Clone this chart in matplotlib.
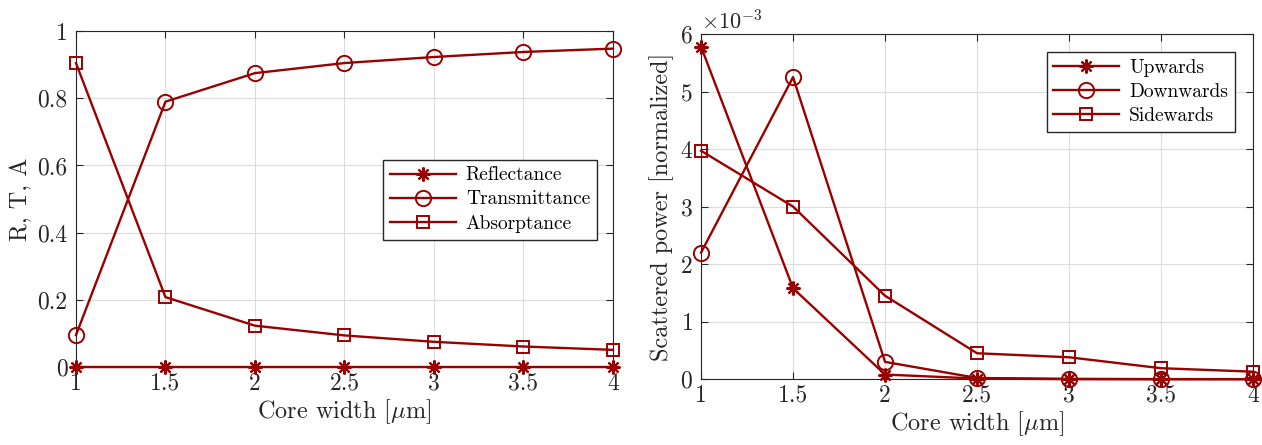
import numpy as np
import matplotlib
matplotlib.use('Agg')
import matplotlib.pyplot as plt
from matplotlib.ticker import FormatStrFormatter, ScalarFormatter

plt.rcParams['font.family'] = ['cmr10', 'DejaVu Serif']
plt.rcParams['mathtext.fontset'] = 'cm'
plt.rcParams['axes.formatter.use_mathtext'] = True
plt.rcParams['axes.unicode_minus'] = False

# data
core_width = [1, 1.5, 2, 2.5, 3, 3.5, 4]
reflectance = [0, 0, 0, 0, 0, 0, 0]
transmittance = [0.095, 0.79, 0.875, 0.905, 0.923, 0.938, 0.948]
absorptance = [0.905, 0.208, 0.123, 0.094, 0.075, 0.061, 0.051]

upwards = [5.78e-3, 1.58e-3, 0.08e-3, 0.01e-3, 0.0, 0.0, 0.0]
downwards = [2.2e-3, 5.25e-3, 0.30e-3, 0.02e-3, 0.005e-3, 0.0, 0.0]
sidewards = [3.97e-3, 3.0e-3, 1.45e-3, 0.45e-3, 0.38e-3, 0.19e-3, 0.13e-3]

red = '#990000'
ink = '#262626'
asterisk = (8, 2, 0)

fig = plt.figure(figsize=(12.62, 4.45), dpi=100)
ax1 = fig.add_axes([0.0602, 0.1753, 0.4255, 0.7547])
ax2 = fig.add_axes([0.5555, 0.148, 0.4374, 0.7756])


def style_axes(ax):
    ax.grid(True, color='#dcdcdc', linewidth=0.8)
    ax.set_axisbelow(True)
    ax.tick_params(direction='in', top=True, right=True, labelsize=17,
                   colors=ink, length=5)
    ax.tick_params(axis='x', pad=4)
    ax.tick_params(axis='y', pad=6)
    for s in ax.spines.values():
        s.set_color(ink)
        s.set_linewidth(0.8)
    ax.set_xlim(1, 4)
    ax.set_xticks(core_width)
    ax.xaxis.set_major_formatter(FormatStrFormatter('%g'))
    ax.set_xlabel(r'Core width [$\mu$m]', fontsize=17.5, color=ink, labelpad=2)


def draw(ax, ys, labels):
    kw = dict(color=red, lw=1.7, clip_on=False, zorder=3)
    ax.plot(core_width, ys[0], marker=asterisk, ms=10, mew=1.6,
            label=labels[0], **kw)
    ax.plot(core_width, ys[1], marker='o', ms=11, mfc='none', mew=1.4,
            label=labels[1], **kw)
    ax.plot(core_width, ys[2], marker='s', ms=9, mfc='none', mew=1.4,
            label=labels[2], **kw)


leg_kw = dict(fontsize=14, frameon=True, fancybox=False, edgecolor=ink,
              framealpha=1, handlelength=3.4, borderpad=0.35,
              labelspacing=0.32, handletextpad=0.5, borderaxespad=0)

# left: R, T, A
draw(ax1, [reflectance, transmittance, absorptance],
     ['Reflectance', 'Transmittance', 'Absorptance'])
style_axes(ax1)
ax1.set_ylim(0, 1)
ax1.set_yticks([0, 0.2, 0.4, 0.6, 0.8, 1])
ax1.yaxis.set_major_formatter(FormatStrFormatter('%g'))
ax1.set_ylabel('R, T, A', fontsize=17.5, color=ink, labelpad=4)
ax1.legend(loc='center right', bbox_to_anchor=(0.970, 0.4985), **leg_kw)

# right: scattered power
draw(ax2, [upwards, downwards, sidewards],
     ['Upwards', 'Downwards', 'Sidewards'])
style_axes(ax2)
ax2.set_ylim(0, 6e-3)
ax2.set_yticks(np.arange(0, 7) * 1e-3)
fmt = ScalarFormatter(useMathText=True)
fmt.set_powerlimits((-2, 2))
ax2.yaxis.set_major_formatter(fmt)
ax2.yaxis.get_offset_text().set_fontsize(16)
ax2.yaxis.get_offset_text().set_color(ink)
ax2.set_ylabel('Scattered power [normalized]', fontsize=17.5, color=ink,
               labelpad=4)
ax2.legend(loc='upper right', bbox_to_anchor=(0.967, 0.948), **leg_kw)

fig.savefig('out.png', dpi=100)
